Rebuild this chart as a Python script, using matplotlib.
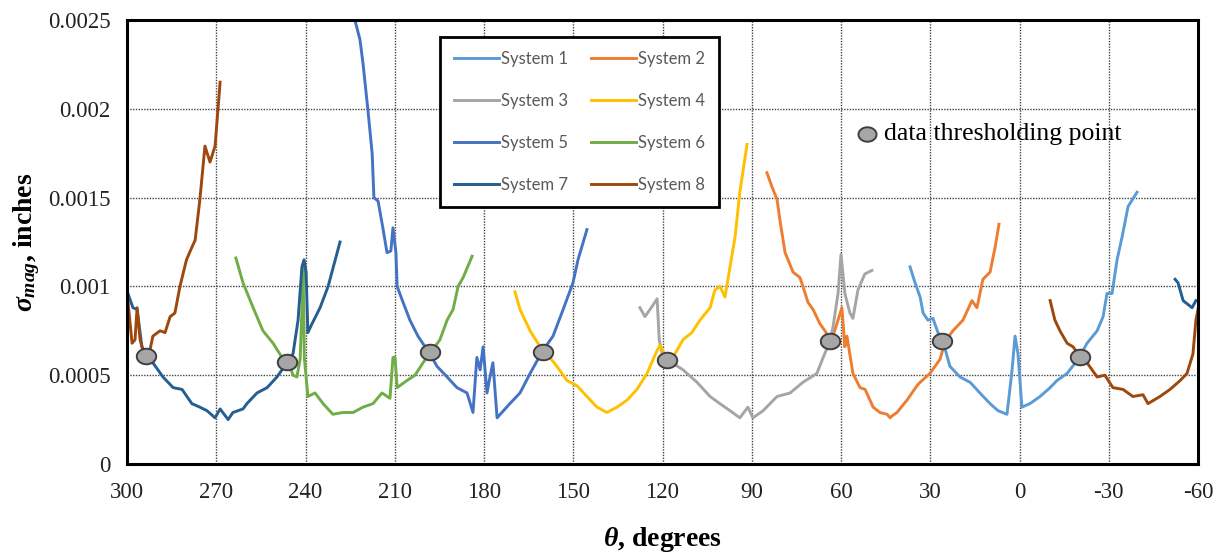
import numpy as np
import matplotlib
matplotlib.use("Agg")
import matplotlib.pyplot as plt
from matplotlib.path import Path

plt.rcParams['mathtext.fontset'] = 'custom'
plt.rcParams['mathtext.rm'] = 'Liberation Serif:bold'
plt.rcParams['mathtext.it'] = 'Liberation Serif:italic:bold'
plt.rcParams['mathtext.bf'] = 'Liberation Serif:bold'

# ---------------- data ----------------
nan = np.nan
sys1_t = [36.8, 35.1, 33.4, 32.4, 30.8, 29.1, 27.4, 25.7, 23.4, 20.0, 16.6, 13.3, 9.9, 7.2, 4.2, 2.5, 1.5, 0.5, -0.8,
          -3.5, -6.9, -10.3, -12.6, -16.0, -19.7, -22.7, -26.1, -28.1, -29.4, -31.1, -32.8, -34.5, -36.5, -39.5]
sys1_y = [0.00111, 0.00102, 0.00094, 0.00085, 0.00081, 0.00082, 0.00074, 0.00069, 0.00055, 0.00049, 0.00046, 0.00040,
          0.00034, 0.00030, 0.00028, 0.00053, 0.00072, 0.00062, 0.00032, 0.00034, 0.00038, 0.00043, 0.00047, 0.00051,
          0.00059, 0.00068, 0.00075, 0.00083, 0.00096, 0.00096, 0.00115, 0.00128, 0.00145, 0.00153]

sys2_t = [84.9, 83.2, 81.5, 80.5, 78.8, 76.1, 73.8, 72.8, 71.1, 69.4, 67.1, 65.4, 63.7, 62.7, 59.7, 58.7, 58.0, 56.0,
          53.6, 51.9, 49.2, 46.9, 44.5, 43.5, 42.9, 41.2, 37.8, 34.5, 33.4, 30.1, 26.7, 25.0, 22.4, 19.0, 16.0, 14.3,
          12.3, 9.9, 8.2, 6.9]
sys2_y = [0.00164, 0.00156, 0.00149, 0.00137, 0.00119, 0.00108, 0.00105, 0.00100, 0.00091, 0.00087, 0.00079, 0.00075,
          0.00070, 0.00072, 0.00088, 0.00066, 0.00072, 0.00051, 0.00043, 0.00042, 0.00032, 0.00029, 0.00028, 0.00026,
          0.00027, 0.00029, 0.00036, 0.00044, 0.00046, 0.00051, 0.00059, 0.00069, 0.00075, 0.00081, 0.00092, 0.00088,
          0.00104, 0.00108, 0.00122, 0.00135]

sys3_t = [127.6, 125.9, 124.2, 121.8, 121.1, 120.2, 118.5, 113.1, 108.4, 104.0, 100.7, 97.3, 94.0, 91.3, 89.6, 86.2,
          81.5, 77.1, 72.8, 68.1, 66.0, 63.7, 62.7, 61.0, 60.0, 58.7, 57.0, 56.0, 54.3, 52.0, 49.6]
sys3_y = [0.00088, 0.00083, 0.00087, 0.00093, 0.00070, 0.00063, 0.00059, 0.00053, 0.00046, 0.00038, 0.00034, 0.00030,
          0.00026, 0.00032, 0.00026, 0.00030, 0.00038, 0.00040, 0.00046, 0.00051, 0.00060, 0.00069, 0.00077, 0.00096,
          0.00118, 0.00096, 0.00085, 0.00082, 0.00098, 0.00107, 0.00109]

sys4_t = [169.6, 167.9, 164.5, 161.9, 158.8, 155.5, 152.1, 148.7, 145.4, 142.0, 138.7, 135.3, 131.9, 128.6, 125.2,
          121.8, 120.8, 118.5, 116.5, 113.1, 110.1, 107.4, 104.0, 102.4, 100.7, 99.0, 97.3, 95.6, 94.0, 91.6]
sys4_y = [0.00097, 0.00087, 0.00075, 0.00068, 0.00062, 0.00055, 0.00047, 0.00044, 0.00038, 0.00032, 0.00029, 0.00032,
          0.00036, 0.00042, 0.00051, 0.00064, 0.00067, 0.00059, 0.00060, 0.00070, 0.00074, 0.00081, 0.00088, 0.00098,
          0.00100, 0.00094, 0.00111, 0.00128, 0.00153, 0.00180]

sys5_t = [223.4, 221.7, 220.7, 219.0, 217.6, 217.0, 215.6, 214.0, 212.6, 211.3, 210.6, 209.6, 209.2, 207.2, 204.9,
          202.2, 198.2, 195.8, 192.4, 189.1, 185.7, 183.7, 182.4, 181.3, 180.3, 179.0, 178.0, 177.0, 175.6, 174.0,
          171.3, 167.9, 164.5, 160.2, 156.8, 153.4, 150.1, 148.4, 145.4]
sys5_y = [0.00250, 0.00239, 0.00226, 0.00199, 0.00175, 0.00150, 0.00148, 0.00133, 0.00119, 0.00120, 0.00133, 0.00119,
          0.00100, 0.00091, 0.00081, 0.00072, 0.00062, 0.00055, 0.00049, 0.00043, 0.00040, 0.00029, 0.00060, 0.00053,
          0.00066, 0.00040, 0.00049, 0.00057, 0.00026, 0.00029, 0.00034, 0.00040, 0.00051, 0.00064, 0.00072, 0.00087,
          0.00102, 0.00115, 0.00132]

sys6_t = [263.4, 261.0, 257.6, 254.3, 250.9, 247.9, 245.2, 244.2, 242.9, 241.8, 241.2, 240.8, 240.4, 239.2, 236.8,
          234.1, 230.8, 227.4, 224.0, 220.7, 217.3, 214.3, 211.6, 210.6, 209.9, 209.2, 205.9, 203.2, 200.5, 197.8,
          194.8, 192.4, 190.4, 188.7, 187.0, 184.0]
sys6_y = [0.00116, 0.00102, 0.00088, 0.00075, 0.00068, 0.00060, 0.00055, 0.00050, 0.00049, 0.00059, 0.00087, 0.00112,
          0.00060, 0.00038, 0.00040, 0.00034, 0.00028, 0.00029, 0.00029, 0.00032, 0.00034, 0.00040, 0.00037, 0.00060,
          0.00060, 0.00043, 0.00047, 0.00050, 0.00057, 0.00063, 0.00070, 0.00081, 0.00087, 0.00100, 0.00105, 0.00117]

sys7_t = [299.7, 298.0, 296.6, 295.0, 293.6, 291.3, 287.9, 284.5, 281.5, 278.2, 275.5, 273.1, 270.4, 268.7, 266.0,
          264.4, 261.0, 259.7, 256.3, 252.9, 249.6, 246.2, 244.2, 242.5, 241.2, 240.5, 239.8, 239.2, 237.8, 235.1,
          232.4, 228.4, nan,
          -52.3, -53.3, -55.0, -58.0, -59.3]
sys7_y = [0.00096, 0.00088, 0.00087, 0.00066, 0.00060, 0.00057, 0.00049, 0.00043, 0.00042, 0.00034, 0.00032, 0.00030,
          0.00026, 0.00031, 0.00025, 0.00029, 0.00031, 0.00034, 0.00040, 0.00043, 0.00049, 0.00057, 0.00062, 0.00081,
          0.00111, 0.00115, 0.00108, 0.00074, 0.00079, 0.00088, 0.00100, 0.00125, nan,
          0.00104, 0.00102, 0.00092, 0.00088, 0.00092]

sys8_t = [299.7, 298.3, 297.3, 296.6, 295.6, 294.6, 292.3, 291.3, 288.9, 287.2, 285.5, 283.9, 282.2, 280.0, 278.2,
          277.1, 275.5, 273.8, 272.1, 270.4, 268.7, nan,
          -10.3, -11.9, -13.6, -16.0, -18.0, -19.7, -22.7, -26.1, -28.7, -31.4, -34.8, -38.1, -41.5, -43.2, -47.2,
          -50.6, -54.0, -56.3, -58.3, -59.3, -60.0]
sys8_y = [0.00092, 0.00068, 0.00070, 0.00088, 0.00070, 0.00064, 0.00064, 0.00072, 0.00075, 0.00074, 0.00083, 0.00085,
          0.00100, 0.00115, 0.00122, 0.00126, 0.00149, 0.00179, 0.00170, 0.00179, 0.00215, nan,
          0.00092, 0.00081, 0.00075, 0.00068, 0.00066, 0.00062, 0.00057, 0.00049, 0.00050, 0.00043, 0.00042, 0.00038,
          0.00039, 0.00034, 0.00038, 0.00042, 0.00047, 0.00051, 0.00062, 0.00081, 0.00087]

thresh_t = [293.6, 246.2, 198.1, 160.2, 118.5, 63.7, 25.9, -20.5]
thresh_y = [0.00061, 0.000575, 0.00063, 0.00063, 0.000586, 0.00069, 0.00069, 0.00060]

labels = ["System 1", "System 2", "System 3", "System 4", "System 5", "System 6", "System 7", "System 8"]
colors = ["#5B9BD5", "#ED7D31", "#A5A5A5", "#FFC000", "#4472C4", "#70AD47", "#255E91", "#9E480E"]
series_t = [sys1_t, sys2_t, sys3_t, sys4_t, sys5_t, sys6_t, sys7_t, sys8_t]
series_y = [sys1_y, sys2_y, sys3_y, sys4_y, sys5_y, sys6_y, sys7_y, sys8_y]

x_ticks = [300, 270, 240, 210, 180, 150, 120, 90, 60, 30, 0, -30, -60]
y_ticks = [0, 0.0005, 0.001, 0.0015, 0.002, 0.0025]
y_ticklabels = ["0", "0.0005", "0.001", "0.0015", "0.002", "0.0025"]

# ---------------- figure ----------------
fig = plt.figure(figsize=(12.28, 5.56), dpi=100)
ax = fig.add_axes([127/1228, 1-464/556, (1198-127)/1228, (464-20)/556])

handles = []
for t, y, lab, c in zip(series_t, series_y, labels, colors):
    h, = ax.plot(t, y, color=c, lw=2.1, label=lab, solid_joinstyle='round', zorder=3)
    handles.append(h)

# ellipse marker
ang = np.linspace(0, 2*np.pi, 60)
ell = Path(np.column_stack([1.25*np.cos(ang), np.sin(ang)]), closed=True)
ax.plot(thresh_t, thresh_y, ls='none', marker=ell, ms=14, mfc='#A6A6A6', mec='#3F3F3F', mew=1.4, zorder=5)

ax.set_xlim(300, -60)
ax.set_ylim(0, 0.0025)
ax.set_xticks(x_ticks)
ax.set_xticklabels([str(v) for v in x_ticks])
ax.set_yticks(y_ticks)
ax.set_yticklabels(y_ticklabels)
ax.tick_params(length=0, labelsize=16.5)
ax.tick_params(axis='x', pad=13)
ax.tick_params(axis='y', pad=12)
for lab in ax.get_xticklabels() + ax.get_yticklabels():
    lab.set_fontfamily('Liberation Serif')
    lab.set_color('#222222')

ax.grid(True, color='#444444', lw=1.0, ls=(0, (1, 1)), zorder=1)
for s in ax.spines.values():
    s.set_linewidth(2.2)
    s.set_color('black')
    s.set_zorder(6)

ax.set_xlabel(r'$\theta$, degrees', fontfamily='Liberation Serif', fontweight='bold', fontsize=20, labelpad=16)
ax.set_ylabel(r'$\sigma_{mag}$, inches', fontfamily='Liberation Serif', fontweight='bold', fontsize=20, labelpad=4)

# legend filled row-wise (ncol=2 fills columns first, so reorder)
order = [0, 2, 4, 6, 1, 3, 5, 7]
leg = ax.legend(handles=[handles[i] for i in order], ncol=2, loc='upper left', bbox_to_anchor=(0.292, 0.962),
                prop={'family': 'Lato', 'size': 12}, labelcolor='#595959',
                frameon=True, fancybox=False, framealpha=1, edgecolor='black',
                handlelength=2.7, handletextpad=0.1, columnspacing=1.4, labelspacing=1.55,
                borderpad=0.85, borderaxespad=0)
leg.get_frame().set_linewidth(2.0)
leg.set_zorder(7)

# annotation for thresholding point
ax.plot([51.3], [0.00186], ls='none', marker=ell, ms=13, mfc='#A6A6A6', mec='#3F3F3F', mew=1.4,
        zorder=8, clip_on=False)
ax.text(45.7, 0.00186, 'data thresholding point', fontfamily='Liberation Serif', fontsize=18.5,
        va='center', ha='left', color='black', zorder=8)

fig.savefig('out.png', dpi=100)
